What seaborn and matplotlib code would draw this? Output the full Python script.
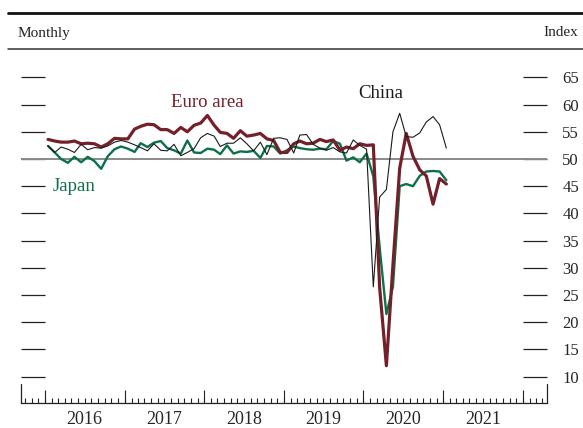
#!/usr/bin/env python3

import matplotlib
matplotlib.use("Agg")
import matplotlib.pyplot as plt
import matplotlib.dates as mdates
from matplotlib.lines import Line2D
import seaborn as sns
import pandas as pd

# Services PMIs, monthly, Jan 2016 - Jan 2021
start = "2016-01-01"
n_months = 61

euro = [53.6, 53.3, 53.1, 53.1, 53.3, 52.8, 52.9, 52.8, 52.2, 52.8, 53.8, 53.7,
        53.7, 55.5, 56.0, 56.4, 56.3, 55.4, 55.4, 54.7, 55.8, 55.0, 56.2, 56.6,
        58.0, 56.2, 54.9, 54.7, 53.8, 55.2, 54.2, 54.4, 54.7, 53.7, 53.4, 51.2,
        51.2, 52.8, 53.3, 52.8, 52.9, 53.6, 53.2, 53.5, 51.6, 52.2, 51.9, 52.8,
        52.5, 52.6, 26.4, 12.0, 30.5, 48.3, 54.7, 50.5, 48.0, 46.9, 41.7, 46.4,
        45.4]

japan = [52.4, 51.2, 50.0, 49.3, 50.4, 49.4, 50.4, 49.6, 48.2, 50.5, 51.8, 52.3,
         51.9, 51.3, 52.9, 52.2, 53.0, 53.3, 52.0, 51.6, 51.0, 53.4, 51.2, 51.1,
         51.9, 51.7, 50.9, 52.5, 51.0, 51.4, 51.3, 51.5, 50.2, 52.4, 52.3, 51.0,
         51.6, 52.3, 52.0, 51.8, 51.7, 51.9, 51.8, 53.3, 52.8, 49.7, 50.3, 49.4,
         51.0, 46.8, 33.8, 21.5, 26.5, 45.0, 45.4, 45.0, 46.9, 47.7, 47.8, 47.7,
         46.1]

china = [52.4, 51.2, 52.2, 51.8, 51.2, 52.7, 51.7, 52.1, 52.0, 52.4, 53.1, 53.4,
         53.1, 52.6, 52.1, 51.5, 52.8, 51.6, 51.5, 52.7, 50.6, 51.2, 51.9, 53.9,
         54.7, 54.2, 52.3, 52.9, 52.9, 53.9, 52.8, 51.5, 53.1, 50.8, 53.8, 53.9,
         53.6, 51.1, 54.4, 54.5, 52.7, 52.0, 51.6, 52.1, 51.3, 51.1, 53.5, 52.5,
         51.8, 26.5, 43.0, 44.4, 55.0, 58.4, 54.1, 54.0, 54.8, 56.8, 57.8, 56.3,
         52.0]

series_names = ["Japan", "Euro area", "China"]
colors = {"Japan": "#0c7148", "Euro area": "#74202b", "China": "#1a1a1a"}
widths = {"Japan": 1.7, "Euro area": 2.3, "China": 0.8}

years = [2016, 2017, 2018, 2019, 2020, 2021]
y_ticks = [10, 15, 20, 25, 30, 35, 40, 45, 50, 55, 60, 65]


def buildFrame():
    dates = pd.date_range(start, periods=n_months, freq="MS") + pd.Timedelta(days=14)
    parts = []
    for name, vals in zip(["Euro area", "Japan", "China"], [euro, japan, china]):
        parts.append(pd.DataFrame({"date": dates, "value": vals, "series": name}))
    return pd.concat(parts, ignore_index=True)


def plotFig():
    d = buildFrame()

    sns.set_style("ticks")
    plt.rcParams["font.family"] = ["Liberation Serif", "DejaVu Serif"]

    fig = plt.figure(figsize=(5.83, 4.28), dpi=100)
    ax = fig.add_axes([0.036, 0.0584, 0.902, 0.7862])

    ax.axhline(50, color="#8a8a8a", lw=1.4, zorder=1)

    sns.lineplot(data=d, x="date", y="value", hue="series", size="series",
                 hue_order=series_names, size_order=series_names,
                 palette=colors, sizes=widths, legend=False, ax=ax, zorder=3)

    ax.set_xlim(pd.Timestamp("2015-09-13"), pd.Timestamp("2022-04-21"))
    ax.set_ylim(5.15, 67)
    ax.set(xlabel="", ylabel="")

    # y axis: inward ticks both sides, labels at right
    ax.set_yticks(y_ticks)
    ax.yaxis.set_ticks_position("both")
    ax.tick_params(axis="y", direction="in", length=17.3, width=0.9,
                   color="#222222", labelleft=False, labelright=True,
                   labelsize=12, pad=11)

    # x axis: year labels centred mid-year, monthly and yearly ticks
    ax.xaxis.remove_overlapping_locs = False
    ax.set_xticks([pd.Timestamp(f"{y}-07-01") for y in years])
    ax.set_xticklabels([str(y) for y in years])
    ax.xaxis.set_minor_locator(mdates.MonthLocator())
    ax.tick_params(axis="x", which="major", length=0, labelsize=13, pad=5.5)
    ax.tick_params(axis="x", which="minor", direction="in", length=3.5,
                   width=0.8, color="#222222")
    sec = ax.secondary_xaxis("bottom")
    sec.set_xticks([pd.Timestamp(f"{y}-01-01") for y in years + [2022]])
    sec.tick_params(direction="in", length=9.5, width=0.8, color="#222222",
                    labelbottom=False)
    sec.spines["bottom"].set_visible(False)

    for s in ["top", "left", "right"]:
        ax.spines[s].set_visible(False)
    ax.spines["bottom"].set_color("#222222")
    ax.spines["bottom"].set_linewidth(0.9)
    # end caps of the date axis
    x0, x1 = ax.get_xlim()
    for xe in [x0, x1]:
        ax.axvline(xe, ymin=0, ymax=0.055, color="#222222", lw=0.9, clip_on=False)

    # series labels
    ax.text(pd.Timestamp("2018-01-15"), 60.3, "Euro area", color=colors["Euro area"],
            fontsize=13.5, ha="center", va="center")
    ax.text(pd.Timestamp("2016-05-12"), 45.0, "Japan", color=colors["Japan"],
            fontsize=13.5, ha="center", va="center")
    ax.text(pd.Timestamp("2020-03-20"), 62.1, "China", color="#1a1a1a",
            fontsize=13.5, ha="center", va="center")

    # header rules and captions
    fig.add_artist(Line2D([8 / 583, 1], [1 - 13 / 428] * 2, color="#111111",
                          lw=2.0, transform=fig.transFigure))
    fig.add_artist(Line2D([8 / 583, 1], [1 - 49 / 428] * 2, color="#333333",
                          lw=1.1, transform=fig.transFigure))
    fig.text(18 / 583, 1 - 33 / 428, "Monthly", fontsize=11, ha="left", va="center",
             color="#222222")
    fig.text(578 / 583, 1 - 33 / 428, "Index", fontsize=11, ha="right", va="center",
             color="#222222")

    plt.savefig("out.png", dpi=100)


def main():
    plotFig()


if __name__ == "__main__":
    main()
